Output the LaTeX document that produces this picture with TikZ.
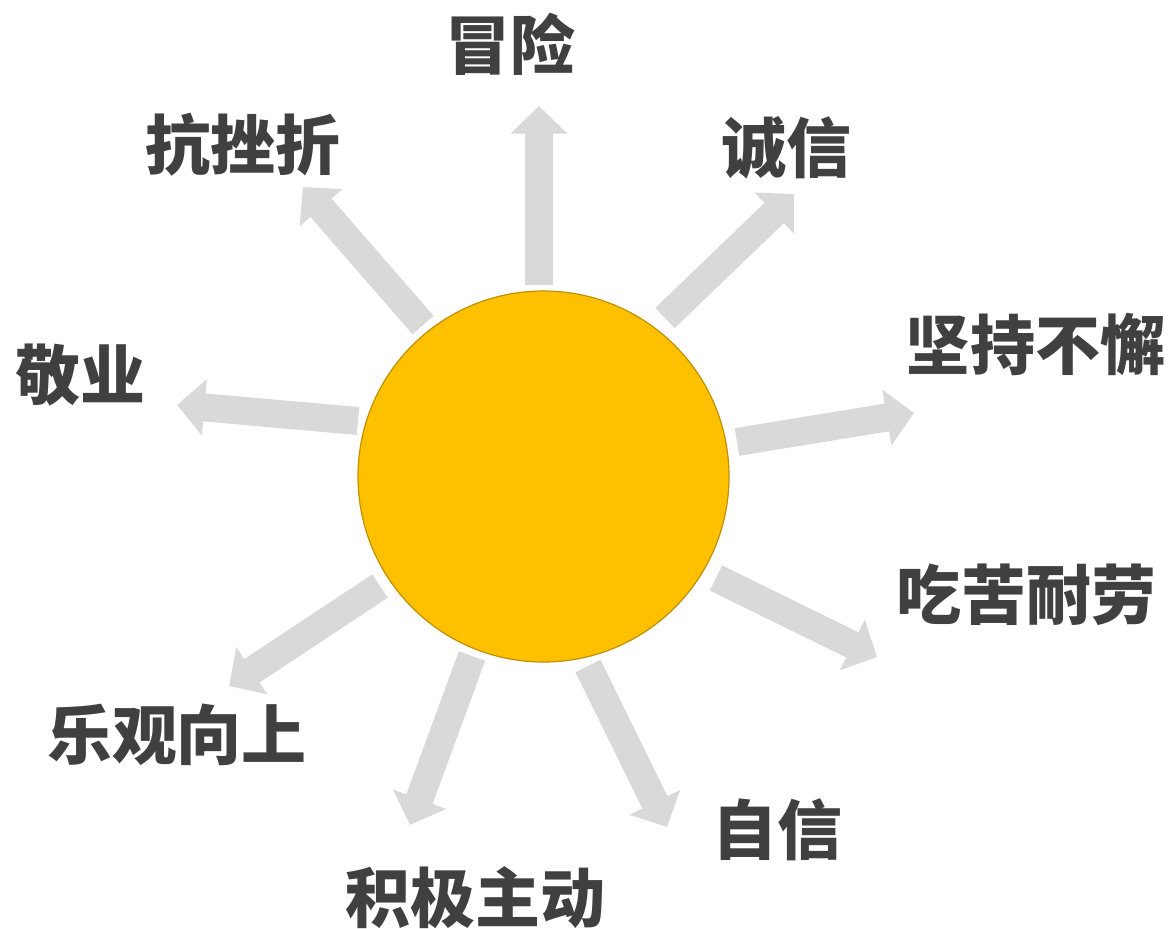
\documentclass[tikz,border=0pt]{standalone}
\usepackage{fontspec}
\newfontfamily\cjk{Noto Sans CJK SC}
\usetikzlibrary{arrows.meta}
\definecolor{sunfill}{HTML}{FFC000}
\definecolor{sunline}{HTML}{BF9000}
\definecolor{raygray}{HTML}{D9D9D9}
\definecolor{txtgray}{HTML}{404040}
\begin{document}
\begin{tikzpicture}[x=1pt,y=-1pt,
  ray/.style={draw=raygray,line width=28pt,line cap=butt,
    -{Triangle[width=55pt,length=27.5pt]}},
  lbl/.style={inner sep=0pt,text=txtgray,font=\cjk\bfseries\fontsize{65pt}{70pt}\selectfont},
  sunstyle/.style={circle,fill=sunfill,draw=sunline,line width=1.2pt,minimum size=371pt,inner sep=0pt}]
\useasboundingbox (0,0) rectangle (1171,929);
\node[sunstyle] (sun) at (543.5,476.5) {};
% start and tip coordinates
\coordinate (s1) at (539,285);  \coordinate (t1) at (539,106);
\coordinate (s2) at (665,318);  \coordinate (t2) at (794,194);
\coordinate (s3) at (737,442);  \coordinate (t3) at (914,413);
\coordinate (s4) at (716,578);  \coordinate (t4) at (877,657);
\coordinate (s5) at (588,666);  \coordinate (t5) at (667,827);
\coordinate (s6) at (472,656);  \coordinate (t6) at (410,825);
\coordinate (s7) at (380,586);  \coordinate (t7) at (229,686);
\coordinate (s8) at (358,421);  \coordinate (t8) at (177,405);
\coordinate (s9) at (423,325);  \coordinate (t9) at (303,187);
\foreach \i in {1,...,9} {\draw[ray] (s\i) -- (t\i);}
% labels
\node[lbl] (l1) at (510,44) {冒险};
\node[lbl] (l2) at (786,148) {诚信};
\node[lbl] (l3) at (1035,344) {坚持不懈};
\node[lbl] (l4) at (1026,595) {吃苦耐劳};
\node[lbl] (l5) at (777,830) {自信};
\node[lbl] (l6) at (475,898) {积极主动};
\node[lbl] (l7) at (177,735) {乐观向上};
\node[lbl] (l8) at (81,375) {敬业};
\node[lbl] (l9) at (243,145) {抗挫折};
\end{tikzpicture}
\end{document}
